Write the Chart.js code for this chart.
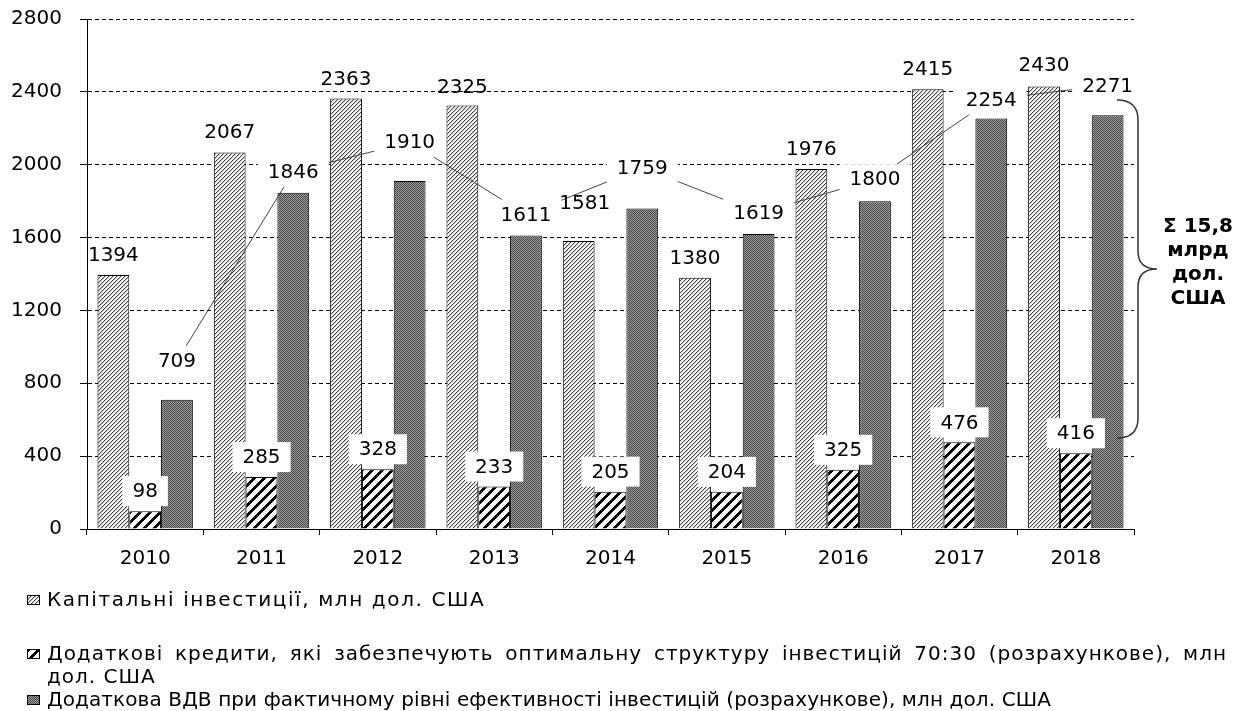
<!DOCTYPE html>
<html>
<head>
<meta charset="utf-8">
<script src="https://cdn.jsdelivr.net/npm/chart.js@4/dist/chart.umd.min.js"></script>
<style>
  body { margin: 0; background: #fff; }
  #wrap { position: relative; width: 1239px; height: 711px; }
  #legend { position: absolute; left: 47px; top: 588px; width: 1180px; font: 20px "DejaVu Sans"; color: #000; line-height: 23px; }
  .item { position: relative; }
  .item canvas { position: absolute; left: -20px; top: 7px; }
  .just { text-align: justify; text-align-last: justify; }
</style>
</head>
<body>
<div id="wrap">
  <canvas id="mycanvas" width="1239" height="711"></canvas>
  <div id="legend"></div>
</div>
<script>
var years = ['2010', '2011', '2012', '2013', '2014', '2015', '2016', '2017', '2018'];
var capInvest = [1394, 2067, 2363, 2325, 1581, 1380, 1976, 2415, 2430];
var addCredits = [98, 285, 328, 233, 205, 204, 325, 476, 416];
var addGva = [709, 1846, 1910, 1611, 1759, 1619, 1800, 2254, 2271];
var yTicks = [0, 400, 800, 1200, 1600, 2000, 2400, 2800];
var seriesNames = [
    'Капітальні інвестиції, млн дол. США',
    'Додаткові кредити, які забезпечують оптимальну структуру інвестицій 70:30 (розрахункове), млн дол. США',
    'Додаткова ВДВ при фактичному рівні ефективності інвестицій (розрахункове), млн дол. США'
];

// label placement: lift above the bar top and sideways nudge (px)
var capLift = [20, 21, 20, 19, 38, 20, 20, 20, 22];
var capNudge = [0, 0, 0, 0, 6, 0, 0, 0, 0];
var gvaLift = [39, 21, 39, 21, 41, 21, 22, 19, 30];
var braceFrom = 2355, braceTo = 500;

var canvas = document.getElementById('mycanvas');
var ctx = canvas.getContext('2d');
var FONT = '"DejaVu Sans"';

function makePattern(size, paint) {
    var c = document.createElement('canvas');
    c.width = size; c.height = size;
    var g = c.getContext('2d');
    g.fillStyle = '#fff';
    g.fillRect(0, 0, size, size);
    for (var x = 0; x < size; x++) {
        for (var y = 0; y < size; y++) {
            var col = paint(x, y);
            if (col) { g.fillStyle = col; g.fillRect(x, y, 1, 1); }
        }
    }
    return ctx.createPattern(c, 'repeat');
}
var patLight = makePattern(4, function (x, y) { return (x + y) % 4 === 0 ? '#3c3c3c' : ((x + y) % 4 === 1 ? '#c8c8c8' : null); });
var patDense = makePattern(10, function (x, y) { return (x + y) % 10 < 4 ? '#000' : null; });
var patDark = makePattern(2, function (x, y) { return (x + y) % 2 === 0 ? '#474747' : '#9e9e9e'; });
var patterns = [patLight, patDense, patDark];

function boxed(c, text, x, y, h) {
    var w = c.measureText(text).width + 20;
    c.fillStyle = '#fff';
    c.fillRect(x - w / 2, y - h / 2, w, h);
    c.fillStyle = '#000';
    c.fillText(text, x, y + 1);
}

var labelsPlugin = {
    id: 'barLabels',
    afterDatasetsDraw: function (chart) {
        var c = chart.ctx;
        var m0 = chart.getDatasetMeta(0), m1 = chart.getDatasetMeta(1), m2 = chart.getDatasetMeta(2);
        c.save();
        c.font = '20px ' + FONT;
        c.textAlign = 'center';
        c.textBaseline = 'middle';
        var pts = m2.data.map(function (bar, i) { return {x: bar.x, y: bar.y - gvaLift[i]}; });
        c.strokeStyle = '#444';
        c.lineWidth = 1;
        c.beginPath();
        pts.forEach(function (p, i) { if (i === 0) c.moveTo(p.x, p.y); else c.lineTo(p.x, p.y); });
        c.stroke();
        pts.forEach(function (p, i) { boxed(c, String(addGva[i]), p.x, p.y, 30); });
        m1.data.forEach(function (bar, i) { boxed(c, String(addCredits[i]), bar.x, bar.y - 20, 30); });
        c.fillStyle = '#000';
        m0.data.forEach(function (bar, i) {
            c.fillText(String(capInvest[i]), bar.x + capNudge[i], bar.y - capLift[i] + 1);
        });

        // brace with the total of the third series
        var ys = chart.scales.y, a = chart.chartArea;
        var top = ys.getPixelForValue(braceFrom), bot = ys.getPixelForValue(braceTo), mid = (top + bot) / 2;
        var x0 = a.right - 17, x1 = a.right + 4, x2 = a.right + 23;
        c.strokeStyle = '#333';
        c.lineWidth = 1.5;
        c.beginPath();
        c.moveTo(x0, top);
        c.quadraticCurveTo(x1, top, x1, top + 20);
        c.lineTo(x1, mid - 18);
        c.quadraticCurveTo(x1, mid, x2, mid);
        c.quadraticCurveTo(x1, mid, x1, mid + 18);
        c.lineTo(x1, bot - 20);
        c.quadraticCurveTo(x1, bot, x0, bot);
        c.stroke();
        var total = addGva.reduce(function (s, v) { return s + v; }, 0) / 1000;
        var lines = ['Σ ' + total.toFixed(1).replace('.', ','), 'млрд', 'дол.', 'США'];
        c.font = 'bold 20px ' + FONT;
        c.fillStyle = '#000';
        lines.forEach(function (t, i) { c.fillText(t, a.right + 64, mid - 42 + i * 24); });
        c.restore();
    }
};

var tickFont = {family: FONT, size: 20};

var myChart = new Chart(ctx, {
    type: 'bar',
    data: {
        labels: years,
        datasets: [
            {data: capInvest, backgroundColor: patLight, borderColor: '#000', borderWidth: 1, categoryPercentage: 0.82, barPercentage: 1},
            {data: addCredits, backgroundColor: patDense, borderColor: '#000', borderWidth: 1, categoryPercentage: 0.82, barPercentage: 1},
            {data: addGva, backgroundColor: patDark, borderColor: '#000', borderWidth: 1, categoryPercentage: 0.82, barPercentage: 1}
        ]
    },
    options: {
        responsive: false,
        animation: false,
        layout: {padding: {left: 0, top: 19, right: 105, bottom: 131}},
        plugins: {legend: {display: false}, tooltip: {enabled: false}},
        scales: {
            x: {
                grid: {offset: true, drawOnChartArea: false, tickLength: 6, color: '#000'},
                border: {color: '#000'},
                ticks: {font: tickFont, color: '#000', padding: 12},
                afterFit: function (s) { s.height = 51; }
            },
            y: {
                min: 0, max: 2800,
                afterBuildTicks: function (s) { s.ticks = yTicks.map(function (v) { return {value: v}; }); },
                grid: {color: '#000', tickLength: 7},
                border: {color: '#000', dash: [4, 3]},
                ticks: {font: tickFont, color: '#000', padding: 18, callback: function (v) { return String(v); }},
                afterFit: function (s) { s.width = 87; s.paddingTop = 0; s.paddingBottom = 0; }
            }
        }
    },
    plugins: [labelsPlugin]
});

// legend under the chart
var legend = document.getElementById('legend');
var gaps = [0, 31, 0];
var spacing = ['1.6px', '1px', '0.1px'];
seriesNames.forEach(function (name, i) {
    var d = document.createElement('div');
    d.className = 'item';
    d.style.marginTop = gaps[i] + 'px';
    d.style.letterSpacing = spacing[i];
    var sw = document.createElement('canvas');
    sw.width = 13; sw.height = 10;
    var g = sw.getContext('2d');
    g.fillStyle = patterns[i];
    g.fillRect(0, 0, 13, 10);
    g.strokeStyle = '#000';
    g.strokeRect(0.5, 0.5, 12, 9);
    d.appendChild(sw);
    if (i === 1) {
        // the long name wraps before "дол. США", first line justified
        var cut = name.lastIndexOf(' дол.');
        var l1 = document.createElement('div');
        l1.className = 'just';
        l1.textContent = name.slice(0, cut);
        var l2 = document.createElement('div');
        l2.textContent = name.slice(cut + 1);
        d.appendChild(l1);
        d.appendChild(l2);
    } else {
        d.appendChild(document.createTextNode(name));
    }
    legend.appendChild(d);
});
</script>
</body>
</html>
